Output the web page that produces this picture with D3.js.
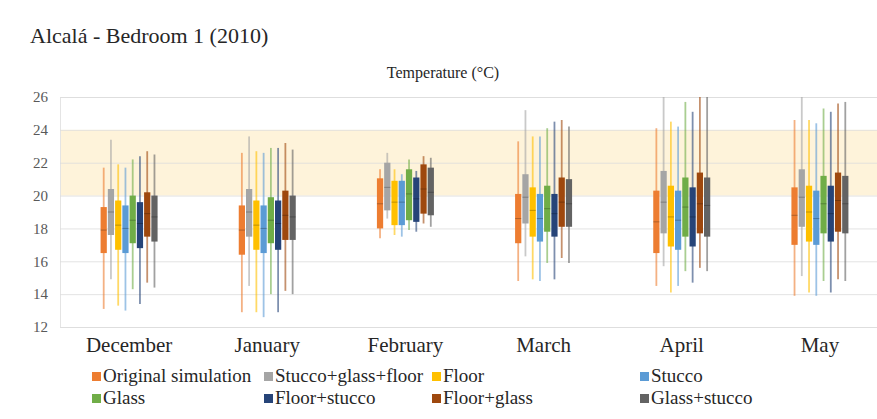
<!DOCTYPE html>
<html>
<head>
<meta charset="utf-8">
<script src="https://cdn.jsdelivr.net/npm/d3@7"></script>
<style>
  html, body { margin: 0; padding: 0; background: #fff; }
</style>
</head>
<body>
<div id="chart"></div>
<script>
// CONSTANTS / DATA ___________________________________________________________
const MONTHS = ['December', 'January', 'February', 'March', 'April', 'May'];
const SERIES_NAMES = ['Original simulation', 'Stucco+glass+floor', 'Floor', 'Stucco',
                      'Glass', 'Floor+stucco', 'Floor+glass', 'Glass+stucco'];
const Y_TICKS = [12, 14, 16, 18, 20, 22, 24, 26];
const COMFORT_BAND = [20, 24];

// each entry: [min, q1, median, q3, max] per month (Dec..May)
const ORIGINAL_SIMULATION = [[13.1, 16.5, 17.9, 19.3, 21.7], [12.9, 16.4, 17.9, 19.4, 22.6], [17.4, 18.0, 19.5, 21.05, 21.6],
                             [14.8, 17.1, 18.6, 20.1, 23.3], [14.5, 16.5, 18.4, 20.3, 24.1], [13.9, 17.0, 18.8, 20.5, 24.6]];
const STUCCO_GLASS_FLOOR  = [[14.9, 17.6, 19.0, 20.4, 23.4], [14.5, 17.5, 19.0, 20.4, 23.6], [18.6, 19.1, 20.5, 22.0, 22.6],
                             [16.3, 18.3, 19.9, 21.3, 25.2], [15.7, 17.7, 19.6, 21.5, 26.0], [15.1, 18.1, 19.9, 21.6, 26.0]];
const FLOOR               = [[13.3, 16.7, 18.2, 19.7, 21.9], [12.9, 16.7, 18.2, 19.7, 22.7], [17.6, 18.2, 19.6, 20.9, 21.6],
                             [14.9, 17.5, 19.1, 20.5, 23.6], [14.1, 16.9, 18.7, 20.6, 24.5], [14.1, 17.2, 19.0, 20.6, 24.6]];
const STUCCO              = [[13.0, 16.5, 18.0, 19.4, 21.7], [12.6, 16.5, 18.0, 19.4, 22.6], [17.5, 18.2, 19.6, 20.9, 21.3],
                             [14.8, 17.2, 18.6, 20.1, 23.6], [14.5, 16.7, 18.5, 20.3, 24.2], [13.9, 17.0, 18.6, 20.3, 24.4]];
const GLASS               = [[14.3, 17.1, 18.5, 20.0, 22.2], [14.0, 17.1, 18.5, 19.9, 22.9], [17.9, 18.5, 20.1, 21.6, 22.2],
                             [15.9, 17.8, 19.2, 20.6, 24.1], [15.4, 17.5, 19.3, 21.1, 25.7], [14.8, 17.7, 19.5, 21.2, 25.3]];
const FLOOR_STUCCO        = [[13.4, 16.8, 18.3, 19.6, 22.4], [12.9, 16.7, 18.3, 19.7, 22.9], [17.8, 18.4, 19.8, 21.1, 21.5],
                             [14.9, 17.5, 18.9, 20.1, 24.5], [14.7, 16.9, 18.7, 20.5, 25.1], [14.1, 17.2, 18.9, 20.6, 25.1]];
const FLOOR_GLASS         = [[14.7, 17.5, 18.9, 20.2, 22.7], [14.2, 17.3, 18.8, 20.3, 23.2], [18.3, 18.9, 20.4, 21.9, 22.4],
                             [16.2, 18.1, 19.6, 21.1, 24.6], [15.6, 17.7, 19.5, 21.4, 26.0], [14.9, 17.8, 19.7, 21.4, 25.6]];
const GLASS_STUCCO        = [[14.4, 17.2, 18.7, 20.0, 22.5], [14.0, 17.3, 18.7, 20.0, 22.8], [18.1, 18.8, 20.2, 21.7, 22.3],
                             [15.9, 18.1, 19.5, 21.0, 24.2], [15.4, 17.5, 19.4, 21.1, 26.0], [14.8, 17.7, 19.5, 21.2, 25.7]];

const SERIES_VALUES = [ORIGINAL_SIMULATION, STUCCO_GLASS_FLOOR, FLOOR, STUCCO,
                       GLASS, FLOOR_STUCCO, FLOOR_GLASS, GLASS_STUCCO];

// Styles
const SERIES_COLORS = ['#ED7D31', '#A5A5A5', '#FFC000', '#5B9BD5', '#70AD47', '#264478', '#9E480E', '#636363'];
const FONT = '"Liberation Serif", "Times New Roman", serif';
const WIDTH = 877, HEIGHT = 419;
const PLOT = {left: 60, right: 889, top: 97, bottom: 327};
//________________________________________________________________________________________


// CHART ___________________________________________________________
function drawChart() {
    const svg = d3.select('#chart').append('svg')
        .attr('width', WIDTH)
        .attr('height', HEIGHT);

    const x = d3.scaleBand().domain(MONTHS).range([PLOT.left, PLOT.right]);
    const xInner = d3.scaleBand().domain(SERIES_NAMES).range([-28.5, 28.5]).paddingInner(0.14);
    const y = d3.scaleLinear().domain([12, 26]).range([PLOT.bottom, PLOT.top]);

    // comfort band
    svg.append('rect')
        .attr('x', PLOT.left).attr('width', WIDTH - PLOT.left)
        .attr('y', y(COMFORT_BAND[1]))
        .attr('height', y(COMFORT_BAND[0]) - y(COMFORT_BAND[1]))
        .attr('fill', '#FEF3DA');

    // gridlines + tick labels
    const yAxis = svg.append('g')
        .attr('transform', `translate(${PLOT.left},0)`)
        .call(d3.axisLeft(y).tickValues(Y_TICKS).tickSize(-(WIDTH - PLOT.left)).tickPadding(12));
    yAxis.select('.domain').attr('stroke', '#E4E4E4');
    yAxis.selectAll('.tick line').attr('stroke', '#DCDCDC').attr('stroke-opacity', 0.8);
    yAxis.selectAll('.tick text')
        .attr('fill', '#595959').attr('font-size', '15px');

    // box plots
    SERIES_NAMES.forEach(function(name, si) {
        const color = SERIES_COLORS[si];
        const g = svg.append('g');
        const boxes = g.selectAll('g.box')
            .data(SERIES_VALUES[si].map(function(v, mi) { return {month: MONTHS[mi], v: v}; }))
            .enter().append('g')
            .attr('transform', function(d) {
                return `translate(${x(d.month) + x.bandwidth() / 2 + xInner(name)},0)`;
            });
        const bw = xInner.bandwidth();

        // whisker (min to max)
        boxes.append('line')
            .attr('x1', bw / 2).attr('x2', bw / 2)
            .attr('y1', function(d) { return y(d.v[4]); })
            .attr('y2', function(d) { return y(d.v[0]); })
            .attr('stroke', color).attr('stroke-opacity', 0.6)
            .attr('stroke-width', 1.8);

        // box (q1 to q3)
        boxes.append('rect')
            .attr('x', 0).attr('width', bw)
            .attr('y', function(d) { return y(d.v[3]); })
            .attr('height', function(d) { return y(d.v[1]) - y(d.v[3]); })
            .attr('fill', color);

        // median
        boxes.append('line')
            .attr('x1', 0).attr('x2', bw)
            .attr('y1', function(d) { return y(d.v[2]); })
            .attr('y2', function(d) { return y(d.v[2]); })
            .attr('stroke', '#000').attr('stroke-opacity', 0.25)
            .attr('stroke-width', 1);
    });

    // month labels
    svg.append('g')
        .attr('transform', `translate(0,${PLOT.bottom})`)
        .call(d3.axisBottom(x).tickSize(0).tickPadding(10))
        .call(function(g) { g.select('.domain').remove(); })
        .selectAll('text')
        .attr('fill', '#262626').attr('font-size', '21px');

    // titles
    svg.append('text').attr('x', 30).attr('y', 43)
        .attr('font-size', '22px').attr('fill', '#262626')
        .text('Alcalá - Bedroom 1 (2010)');
    svg.append('text').attr('x', 443).attr('y', 78)
        .attr('text-anchor', 'middle').attr('font-size', '16px').attr('fill', '#262626')
        .text('Temperature (°C)');

    // legend
    const LEGEND_X = [92, 264, 432, 640];
    const legend = svg.append('g');
    SERIES_NAMES.forEach(function(name, i) {
        const lx = LEGEND_X[i % 4];
        const ly = i < 4 ? 377 : 399;
        legend.append('rect')
            .attr('x', lx).attr('y', ly - 5).attr('width', 9).attr('height', 9)
            .attr('fill', SERIES_COLORS[i]);
        legend.append('text')
            .attr('x', lx + 11).attr('y', ly + 5)
            .attr('font-size', '19px').attr('fill', '#262626')
            .text(name);
    });

    // one serif face for every label
    svg.selectAll('text').style('font-family', FONT);
}
//________________________________________________________________________________________

drawChart();
</script>
</body>
</html>
